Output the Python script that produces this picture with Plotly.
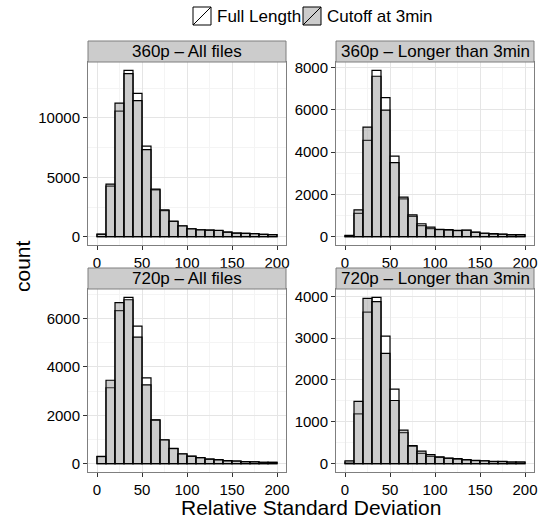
import plotly.graph_objects as go

# ---- data ----
bin_centers = [5, 15, 25, 35, 45, 55, 65, 75, 85, 95, 105, 115, 125, 135, 145, 155, 165, 175, 185, 195]
bin_width = 10
series_names = ["Full Length", "Cutoff at 3min"]
panel_titles = ["360p \u2013 All files", "360p \u2013 Longer than 3min",
                "720p \u2013 All files", "720p \u2013 Longer than 3min"]

full_360_all = [200, 4260, 10580, 14010, 12060, 7630, 3950, 2200, 1280, 900, 660, 580, 550, 520, 380, 300, 275, 245, 190, 165]
cut_360_all = [220, 4430, 11250, 13730, 11450, 7330, 4010, 2260, 1310, 920, 670, 585, 557, 530, 390, 306, 280, 250, 195, 167]

full_360_long = [40, 1100, 4550, 7860, 6570, 3810, 1790, 960, 520, 380, 330, 310, 290, 300, 200, 150, 125, 110, 80, 80]
cut_360_long = [60, 1270, 5180, 7580, 5980, 3500, 1870, 1035, 610, 455, 345, 330, 300, 315, 220, 170, 140, 125, 95, 95]

full_720_all = [290, 3140, 6330, 6880, 5690, 3550, 1800, 980, 620, 400, 305, 245, 185, 160, 120, 105, 80, 75, 55, 50]
cut_720_all = [300, 3450, 6660, 6780, 5230, 3260, 1815, 990, 630, 410, 315, 250, 190, 165, 125, 110, 85, 80, 60, 55]

full_720_long = [40, 1190, 3620, 3975, 3050, 1780, 740, 420, 245, 175, 150, 125, 110, 90, 75, 65, 50, 50, 35, 35]
cut_720_long = [70, 1490, 3950, 3870, 2635, 1510, 800, 430, 300, 215, 165, 135, 120, 95, 80, 70, 55, 55, 40, 40]

x_ticks = [0, 50, 100, 150, 200]
y_dticks = [5000, 2000, 2000, 1000]

panels = [
    (full_360_all, cut_360_all),
    (full_360_long, cut_360_long),
    (full_720_all, cut_720_all),
    (full_720_long, cut_720_long),
]

# ---- layout geometry (pixels) ----
W, H = 542, 518
def px_x(x):
    return x / W
def px_y(y):
    return (H - y) / H

col_px = [(88, 286), (336, 534)]
row_px = [(62, 245), (289, 472)]
strip_px = [(41, 62), (268, 289)]

FONT = "Liberation Sans, Arial, Helvetica, sans-serif"
fill_full = "white"
fill_cut = "rgba(128,128,128,0.4)"

fig = go.Figure()
layout_axes = {}
shapes = []
annotations = []

for i, (full, cut) in enumerate(panels):
    r, c = divmod(i, 2)
    n = i + 1
    xa = "x" if n == 1 else f"x{n}"
    ya = "y" if n == 1 else f"y{n}"
    fig.add_trace(go.Bar(x=bin_centers, y=full, width=[bin_width] * len(full),
                         marker=dict(color=fill_full, line=dict(color="black", width=1.2)),
                         name=series_names[0], showlegend=False, xaxis=xa, yaxis=ya))
    fig.add_trace(go.Bar(x=bin_centers, y=cut, width=[bin_width] * len(cut),
                         marker=dict(color=fill_cut, line=dict(color="black", width=1.2)),
                         name=series_names[1], showlegend=False, xaxis=xa, yaxis=ya))
    m = max(max(full), max(cut))
    x0, x1 = col_px[c]
    y0, y1 = row_px[r]
    common = dict(showline=True, linecolor="#7F7F7F", linewidth=1, mirror=True,
                  showgrid=True, gridcolor="#E5E5E5", gridwidth=1, zeroline=False,
                  automargin=False,
                  ticks="outside", ticklen=4, tickcolor="#333333", tickwidth=1,
                  tickfont=dict(family=FONT, size=15, color="black"))
    layout_axes["xaxis" if n == 1 else f"xaxis{n}"] = dict(
        common, domain=[px_x(x0), px_x(x1)], anchor=ya, range=[-10, 210],
        tickvals=x_ticks, minor=dict(dtick=25, tick0=0, showgrid=True, gridcolor="#F4F4F4", ticks=""))
    layout_axes["yaxis" if n == 1 else f"yaxis{n}"] = dict(
        common, domain=[px_y(y1), px_y(y0)], anchor=xa, range=[-0.05 * m, 1.05 * m],
        tick0=0, dtick=y_dticks[i], tickformat="d",
        minor=dict(dtick=y_dticks[i] / 2, tick0=0, showgrid=True, gridcolor="#F4F4F4", ticks=""))
    # strip
    s0, s1 = strip_px[r]
    shapes.append(dict(type="rect", xref="paper", yref="paper",
                       x0=px_x(x0), x1=px_x(x1), y0=px_y(s1), y1=px_y(s0),
                       fillcolor="#CCCCCC", line=dict(color="#7F7F7F", width=1)))
    annotations.append(dict(text=panel_titles[i], xref="paper", yref="paper",
                            x=px_x((x0 + x1) / 2), y=px_y((s0 + s1) / 2),
                            xanchor="center", yanchor="middle", showarrow=False,
                            font=dict(family=FONT, size=17, color="black")))

# axis titles
annotations.append(dict(text="count", xref="paper", yref="paper", x=px_x(22), y=px_y(266),
                        textangle=-90, xanchor="center", yanchor="middle", showarrow=False,
                        font=dict(family=FONT, size=21, color="black")))
annotations.append(dict(text="Relative Standard Deviation", xref="paper", yref="paper",
                        x=px_x(311), y=px_y(507), xanchor="center", yanchor="middle",
                        showarrow=False, font=dict(family=FONT, size=21, color="black")))

# legend (drawn)
legend_keys = [(193, 211, fill_full, 215), (303, 321, fill_cut, 325)]
for (k0, k1, fc, tx), name in zip(legend_keys, series_names):
    shapes.append(dict(type="rect", xref="paper", yref="paper",
                       x0=px_x(k0), x1=px_x(k1), y0=px_y(25), y1=px_y(7),
                       fillcolor=fc, line=dict(color="black", width=1)))
    shapes.append(dict(type="line", xref="paper", yref="paper",
                       x0=px_x(k0), x1=px_x(k1), y0=px_y(25), y1=px_y(7),
                       line=dict(color="black", width=1)))
    annotations.append(dict(text=name, xref="paper", yref="paper", x=px_x(tx), y=px_y(16),
                            xanchor="left", yanchor="middle", showarrow=False,
                            font=dict(family=FONT, size=17, color="black")))

fig.update_layout(
    template="none",
    width=W, height=H, margin=dict(l=0, r=0, t=0, b=0, pad=0),
    paper_bgcolor="white", plot_bgcolor="white", barmode="overlay",
    showlegend=False, shapes=shapes, annotations=annotations,
    font=dict(family=FONT, color="black"),
    **layout_axes,
)

fig.write_html("out.html", config={"displayModeBar": False},
               post_script="document.body.style.margin='0';document.body.style.overflow='hidden';")
